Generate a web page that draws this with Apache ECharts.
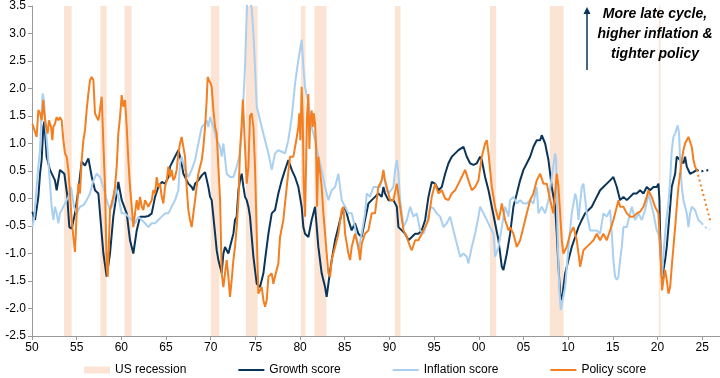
<!DOCTYPE html>
<html>
<head>
<meta charset="utf-8">
<script src="https://cdn.jsdelivr.net/npm/echarts@6/dist/echarts.min.js"></script>
<style>html,body{margin:0;padding:0;background:#fff}#c{width:720px;height:378px}</style>
</head>
<body>
<div id="c"></div>
<script>
// ---- data ----
const recessions = [[1953.58,1954.44],[1957.65,1958.36],[1960.35,1961.15],[1970.0,1970.95],[1973.93,1975.25],[1980.1,1980.6],[1981.6,1982.95],[1990.6,1991.25],[2001.25,2001.95],[2007.95,2009.5],[2020.15,2020.33]];
const xTicks = [1950,1955,1960,1965,1970,1975,1980,1985,1990,1995,2000,2005,2010,2015,2020,2025];
const legendNames = ['US recession','Growth score','Inflation score','Policy score'];

const growth = [
[1950.04,-0.24],[1950.34,-0.39],[1950.71,0.03],[1950.90,0.45],[1951.08,0.70],[1951.27,1.30],[1951.38,1.40],[1951.64,0.76],[1952.01,0.52],[1952.57,0.33],[1952.76,0.15],[1953.13,0.52],[1953.62,0.45],[1953.92,0.09],[1954.18,-0.52],[1954.44,-0.55],[1954.81,-0.27],[1955.19,0.15],[1955.56,0.67],[1955.93,0.60],[1956.31,0.73],[1956.68,0.40],[1957.05,0.15],[1957.43,0.09],[1957.80,-0.64],[1957.99,-1.00],[1958.36,-1.42],[1958.73,-1.00],[1959.10,-0.33],[1959.48,0.09],[1959.66,0.30],[1960.04,-0.03],[1960.60,-0.27],[1960.97,-0.76],[1961.34,-1.00],[1961.72,-0.58],[1962.09,-0.33],[1962.65,-0.33],[1963.02,-0.32],
[1963.40,-0.27],[1963.77,0.03],[1964.14,0.21],[1964.52,0.30],[1964.89,0.27],[1965.26,0.39],[1965.45,0.58],[1965.82,0.70],[1966.19,0.82],[1966.38,0.88],[1966.75,0.64],[1966.94,0.45],[1967.13,0.39],[1967.50,0.27],[1967.87,0.21],[1968.06,0.15],[1968.25,0.27],[1968.62,0.33],[1969.00,0.42],[1969.37,0.48],[1969.55,0.45],[1969.74,0.21],[1969.93,0.03],[1970.11,-0.03],[1970.30,-0.33],[1970.49,-0.64],[1970.67,-0.94],[1970.86,-1.12],[1971.05,-1.24],[1971.23,-1.36],[1971.42,-1.00],[1971.60,-0.88],[1971.79,-0.94],[1971.98,-1.00],[1972.16,-0.88],[1972.35,-0.76],[1972.54,-0.64],[1972.72,-0.39],[1972.91,-0.33],[1973.10,0.15],[1973.28,0.33],[1973.47,0.45],[1973.66,0.21],[1973.84,0.03],[1974.03,-0.03],[1974.22,-0.15],[1974.40,-0.33],[1974.59,-0.70],[1974.78,-1.06],[1974.96,-1.30],[1975.15,-1.55],[1975.52,-1.61],[1975.90,-1.36],[1976.08,-1.12],[1976.27,-0.88],[1976.46,-0.64],
[1976.83,-0.27],[1977.20,-0.21],[1977.57,0.09],[1977.95,0.33],[1978.32,0.52],[1978.69,0.70],[1979.07,0.52],[1979.44,0.39],[1979.81,0.21],[1980.18,-0.15],[1980.37,-0.52],[1980.56,-0.64],[1980.93,-0.70],[1981.30,-0.39],[1981.68,-0.15],[1982.05,-0.88],[1982.42,-1.36],[1982.80,-1.61],[1982.98,-1.79],[1983.17,-1.55],[1983.54,-1.12],[1983.92,-0.76],[1984.29,-0.52],[1984.66,-0.27],[1985.04,-0.15],[1985.41,-0.39],[1985.78,-0.58],[1986.15,-0.45],[1986.53,-0.64],[1986.90,-0.70],[1987.27,-0.39],[1987.65,-0.09],[1988.02,-0.03],[1988.39,0.03],[1988.77,0.09],[1989.14,0.03],[1989.33,0.21],[1989.51,0.09],[1989.89,-0.03],
[1990.08,-0.03],[1990.45,-0.03],[1990.83,-0.15],[1991.01,-0.52],[1991.39,-0.58],[1991.76,-0.64],[1992.13,-0.76],[1992.51,-0.70],[1992.88,-0.64],[1993.25,-0.64],[1993.62,-0.58],[1994.00,-0.39],[1994.37,0.03],[1994.74,0.30],[1995.12,0.27],[1995.49,0.15],[1995.86,0.21],[1996.24,0.45],[1996.61,0.64],[1996.98,0.76],[1997.36,0.82],[1997.73,0.88],[1998.29,0.94],[1998.66,0.76],[1999.03,0.64],[1999.41,0.61],[1999.78,0.64],[2000.15,0.76],[2000.34,0.70],[2000.71,0.39],[2001.09,0.15],[2001.46,-0.15],[2001.83,-0.45],[2002.21,-0.76],[2002.58,-1.24],[2002.76,-1.30],[2003.14,-1.00],
[2003.51,-0.64],[2003.88,-0.15],[2004.26,0.09],[2004.63,0.33],[2005.00,0.52],[2005.38,0.64],[2005.75,0.76],[2006.12,0.94],[2006.49,1.06],[2006.87,1.06],[2007.05,1.15],[2007.43,1.00],[2007.80,0.70],[2008.17,0.21],[2008.55,-0.15],[2008.73,-0.64],[2008.92,-1.24],[2009.11,-1.73],[2009.29,-1.85],[2009.67,-1.36],[2010.04,-1.12],[2010.41,-0.88],[2010.79,-0.70],[2011.16,-0.52],[2011.53,-0.39],[2011.90,-0.27],[2012.28,-0.21],[2012.65,-0.15],[2013.02,-0.03],[2013.40,0.09],
[2013.58,0.15],[2013.95,0.21],[2014.33,0.27],[2014.70,0.33],[2015.07,0.39],[2015.26,0.36],[2015.45,0.21],[2015.63,0.09],[2015.82,-0.03],[2016.19,0.03],[2016.57,-0.03],[2016.94,0.03],[2017.31,0.09],[2017.68,0.09],[2018.06,0.15],[2018.43,0.09],[2018.80,0.21],[2019.18,0.15],[2019.55,0.21],[2019.92,0.21],[2020.11,0.27],[2020.22,-0.03],[2020.30,-0.64],[2020.41,-1.24],[2020.52,-1.48],[2020.67,-1.30],[2020.86,-1.12],[2021.04,-0.88],[2021.23,-0.52],[2021.42,-0.15],[2021.60,0.21],[2021.79,0.33],[2021.98,0.45],[2022.16,0.76],[2022.54,0.70],[2022.91,0.64],[2023.09,0.76],[2023.28,0.58],[2023.65,0.45],[2024.03,0.48],[2024.40,0.52]
];
const growthProj = [[2024.40,0.52],[2024.77,0.49],[2025.14,0.50],[2025.52,0.51],[2025.90,0.53]];

const inflation = [
[1950.04,-0.52],[1950.26,-0.33],[1950.52,0.21],[1950.71,0.58],[1950.90,0.88],[1951.08,1.61],[1951.19,1.91],[1951.34,1.79],[1951.53,1.30],[1951.75,0.88],[1952.01,0.27],[1952.20,-0.15],[1952.39,-0.39],[1952.57,-0.15],[1952.76,-0.27],[1952.95,-0.45],[1953.13,-0.27],[1953.32,-0.27],[1953.69,-0.09],[1954.07,0.03],[1954.37,0.21],[1954.70,-0.15],[1955.00,-0.27],[1955.37,-0.15],[1955.75,-0.12],[1956.12,-0.03],[1956.49,0.09],[1956.87,0.33],[1957.24,0.45],[1957.61,0.39],[1957.99,0.21],[1958.36,-0.03],[1958.73,-0.21],[1959.10,-0.09],[1959.37,0.21],[1959.66,0.03],[1960.04,-0.27],[1960.41,-0.27],[1960.78,-0.33],[1961.16,-0.39],[1961.53,-0.45],[1961.90,-0.33],[1962.28,-0.39],[1962.65,-0.45],[1963.02,-0.52],
[1963.40,-0.45],[1963.77,-0.45],[1964.14,-0.39],[1964.52,-0.33],[1964.89,-0.27],[1965.26,-0.27],[1965.63,-0.15],[1966.01,-0.03],[1966.38,0.15],[1966.57,0.64],[1966.75,0.76],[1967.13,0.52],[1967.50,0.39],[1967.87,0.52],[1968.25,0.70],[1968.62,1.00],[1969.00,1.30],[1969.37,1.36],[1969.55,1.42],[1969.74,1.30],[1969.93,1.48],[1970.30,1.30],[1970.67,1.06],[1971.05,0.94],[1971.23,0.76],[1971.42,1.00],[1971.79,0.45],[1972.16,0.39],[1972.54,0.39],[1972.91,0.58],[1973.28,0.82],[1973.47,1.18],[1973.66,1.79],[1973.84,2.39],[1973.96,3.00],[1974.07,3.55],[1974.22,3.65],[1974.40,3.60],[1974.59,3.45],[1974.78,3.00],[1974.96,2.39],[1975.15,1.67],[1975.33,1.55],[1975.71,1.30],[1976.08,1.06],[1976.46,0.82],
[1976.83,0.52],[1977.20,0.82],[1977.57,0.88],[1977.95,0.85],[1978.32,0.82],[1978.69,1.06],[1979.07,1.48],[1979.44,2.09],[1979.81,2.52],[1980.00,2.70],[1980.18,2.89],[1980.37,2.39],[1980.56,2.03],[1980.93,1.73],[1981.30,1.30],[1981.68,1.06],[1982.05,0.76],[1982.42,0.52],[1982.80,0.21],[1983.17,-0.03],[1983.54,0.15],[1983.92,0.21],[1984.29,0.45],[1984.66,-0.03],[1985.04,-0.15],[1985.41,-0.27],[1985.78,-0.27],[1986.15,-0.52],[1986.53,-0.94],[1986.90,-0.64],[1987.27,-0.27],[1987.46,0.09],[1987.83,0.03],[1988.21,0.21],[1988.58,0.21],[1988.95,0.21],[1989.33,0.45],[1989.70,0.15],[1989.89,0.09],
[1990.08,0.09],[1990.45,0.21],[1990.64,0.52],[1990.83,0.70],[1991.01,0.45],[1991.20,-0.03],[1991.57,-0.52],[1991.95,-0.39],[1992.32,-0.15],[1992.69,-0.33],[1993.06,-0.27],[1993.44,-0.58],[1993.81,-0.64],[1994.18,-0.45],[1994.56,-0.15],[1994.93,-0.18],[1995.30,-0.27],[1995.68,-0.33],[1996.05,-0.52],[1996.42,-0.45],[1996.80,-0.33],[1997.17,-0.58],[1997.54,-0.82],[1997.92,-1.06],[1998.29,-1.00],[1998.66,-1.06],[1998.85,-1.18],[1999.22,-0.88],[1999.59,-0.64],[1999.97,-0.33],[2000.15,-0.15],[2000.53,-0.27],[2000.90,-0.39],[2001.27,-0.52],[2001.65,-0.64],[2001.83,-1.06],[2002.21,-0.88],[2002.58,-0.52],[2002.95,-0.15],[2003.33,-0.33],
[2003.51,-0.03],[2003.88,0.03],[2004.26,-0.09],[2004.63,-0.03],[2005.00,-0.09],[2005.38,-0.09],[2005.75,-0.03],[2006.12,-0.09],[2006.49,0.21],[2006.68,-0.27],[2007.05,-0.15],[2007.43,-0.27],[2007.80,-0.03],[2008.17,0.39],[2008.55,0.82],[2008.66,0.70],[2008.81,-0.64],[2009.00,-1.61],[2009.18,-2.03],[2009.37,-2.00],[2009.67,-1.61],[2010.04,-0.88],[2010.41,-0.27],[2010.79,0.09],[2010.97,-0.03],[2011.16,-0.39],[2011.53,0.21],[2011.72,0.27],[2012.09,-0.27],[2012.46,-0.58],[2012.84,-0.58],[2013.21,-0.58],
[2013.58,-0.64],[2013.95,-0.27],[2014.33,-0.33],[2014.70,-0.21],[2014.89,-0.64],[2015.07,-1.12],[2015.26,-1.42],[2015.45,-1.48],[2015.63,-1.42],[2015.82,-1.12],[2016.01,-0.88],[2016.19,-0.52],[2016.57,-0.52],[2016.94,-0.27],[2017.13,-0.15],[2017.50,-0.39],[2017.87,-0.27],[2018.25,-0.39],[2018.62,-0.21],[2018.99,0.09],[2019.18,-0.03],[2019.55,-0.27],[2019.92,-0.58],[2020.11,-0.64],[2020.22,-0.76],[2020.37,-1.00],[2020.52,-1.42],[2020.67,-1.00],[2020.86,-0.64],[2021.04,-0.33],[2021.23,-0.09],[2021.42,0.33],[2021.60,0.88],[2021.79,1.12],[2021.98,1.18],[2022.27,1.33],[2022.42,1.18],[2022.54,0.70],[2022.72,0.21],[2022.91,-0.03],[2023.09,-0.15],[2023.28,-0.27],[2023.47,-0.52],[2023.65,-0.27],[2023.84,-0.15],[2024.21,-0.21],[2024.58,-0.39],[2024.96,-0.45]
];
const inflationProj = [[2024.96,-0.45],[2025.33,-0.52],[2025.90,-0.56]];

const policy = [
[1950.04,1.36],[1950.26,1.33],[1950.52,1.12],[1950.71,1.61],[1950.90,1.55],[1951.08,1.42],[1951.27,1.79],[1951.38,1.55],[1951.53,1.36],[1951.75,1.18],[1951.90,1.42],[1952.13,1.30],[1952.28,1.06],[1952.39,1.30],[1952.57,1.36],[1952.76,1.48],[1952.95,1.42],[1953.13,1.48],[1953.32,1.42],[1953.51,1.06],[1953.69,0.82],[1953.88,0.76],[1954.07,0.52],[1954.25,0.09],[1954.44,-0.39],[1954.63,-0.70],[1954.81,-0.97],[1955.00,-0.27],[1955.19,0.27],[1955.37,0.09],[1955.56,0.70],[1955.75,1.06],[1955.93,1.24],[1956.12,1.61],[1956.31,1.91],[1956.49,2.15],[1956.68,2.21],[1956.87,2.15],[1957.05,1.55],[1957.24,1.48],[1957.43,1.42],[1957.61,1.61],[1957.80,1.85],[1957.99,1.00],[1958.17,0.21],[1958.36,-1.24],[1958.47,-1.42],[1958.62,-0.76],[1958.73,-0.21],[1958.92,-0.21],[1959.10,0.03],[1959.29,0.21],[1959.48,0.58],[1959.66,1.18],[1959.85,1.48],[1960.04,1.88],[1960.22,1.67],[1960.41,1.79],[1960.60,1.30],[1960.78,0.70],[1960.97,0.21],[1961.16,-0.15],[1961.34,-0.52],[1961.53,-0.27],[1961.72,-0.03],[1961.90,-0.21],[1962.09,0.03],[1962.28,-0.15],[1962.46,-0.21],[1962.65,-0.03],[1963.02,-0.15],
[1963.40,-0.03],[1963.58,0.15],[1963.77,0.09],[1963.96,0.39],[1964.14,0.21],[1964.33,0.27],[1964.52,0.03],[1964.70,-0.09],[1964.89,0.21],[1965.08,0.33],[1965.26,0.58],[1965.45,0.39],[1965.63,0.52],[1965.82,0.33],[1966.01,0.39],[1966.19,0.52],[1966.38,0.82],[1966.57,1.00],[1966.75,1.12],[1966.94,0.94],[1967.13,0.76],[1967.31,0.21],[1967.50,-0.21],[1967.69,-0.39],[1967.87,-0.52],[1968.06,-0.27],[1968.25,-0.03],[1968.43,0.21],[1968.62,0.45],[1968.81,0.58],[1969.00,0.70],[1969.18,0.94],[1969.37,1.30],[1969.55,1.79],[1969.66,2.21],[1969.81,2.15],[1970.00,2.09],[1970.11,2.03],[1970.30,1.61],[1970.49,1.30],[1970.67,1.18],[1970.86,0.58],[1971.05,-0.03],[1971.23,-1.36],[1971.42,-1.61],[1971.60,-1.36],[1971.79,-1.12],[1971.98,-1.42],[1972.16,-1.79],[1972.35,-1.48],[1972.54,-1.12],[1972.72,-0.88],[1972.91,-0.52],[1973.10,-0.03],[1973.28,0.88],[1973.47,1.36],[1973.60,1.80],[1973.84,0.94],[1974.03,0.27],[1974.22,0.58],[1974.40,1.50],[1974.59,1.55],[1974.78,1.30],[1974.96,0.58],[1975.15,-0.64],[1975.33,-1.73],[1975.52,-1.67],[1975.71,-1.61],[1975.90,-1.85],[1976.08,-1.97],[1976.27,-1.85],[1976.46,-1.42],
[1976.83,-1.36],[1977.01,-1.55],[1977.20,-1.42],[1977.57,-1.18],[1977.76,-0.70],[1978.13,-0.39],[1978.51,0.21],[1978.88,0.76],[1979.25,0.76],[1979.62,1.10],[1979.81,1.30],[1979.92,1.55],[1980.04,1.06],[1980.18,2.03],[1980.30,1.48],[1980.41,0.27],[1980.56,-0.33],[1980.67,0.58],[1980.78,1.50],[1980.93,1.90],[1981.04,0.90],[1981.15,1.42],[1981.30,1.60],[1981.42,1.30],[1981.53,1.55],[1981.68,1.36],[1981.79,0.94],[1981.90,-0.15],[1982.05,0.76],[1982.16,0.58],[1982.27,0.45],[1982.42,0.21],[1982.61,-0.27],[1982.80,-0.64],[1982.98,-1.00],[1983.17,-1.36],[1983.36,-1.42],[1983.54,-1.12],[1983.92,-0.88],[1984.29,-0.64],[1984.66,-0.21],[1984.85,-0.15],[1985.04,-0.64],[1985.41,-1.00],[1985.60,-1.12],[1985.78,-0.88],[1986.15,-0.64],[1986.53,-0.88],[1986.72,-1.12],[1986.90,-0.82],[1987.27,-0.64],[1987.65,-0.58],[1988.02,-0.27],[1988.39,-0.27],[1988.77,0.21],[1989.14,0.33],[1989.33,0.52],[1989.51,0.33],[1989.89,0.09],
[1990.08,-0.03],[1990.45,-0.03],[1990.83,0.27],[1991.20,-0.15],[1991.57,-0.58],[1991.95,-0.70],[1992.32,-0.88],[1992.51,-0.94],[1992.88,-0.76],[1993.25,-0.76],[1993.62,-0.64],[1994.00,-0.52],[1994.37,-0.39],[1994.74,0.03],[1995.12,0.27],[1995.49,0.09],[1995.86,0.15],[1996.24,0.00],[1996.61,-0.03],[1996.98,0.09],[1997.36,0.15],[1997.73,0.27],[1998.10,0.39],[1998.47,0.52],[1998.85,0.33],[1999.22,0.15],[1999.59,0.21],[1999.97,0.33],[2000.34,0.76],[2000.71,1.00],[2000.90,1.06],[2001.09,0.82],[2001.46,0.21],[2001.83,-0.15],[2002.21,-0.39],[2002.39,-0.27],[2002.58,-0.09],[2002.95,-0.39],[2003.33,-0.58],
[2003.51,-0.52],[2003.88,-0.64],[2004.26,-0.88],[2004.63,-0.76],[2005.00,-0.52],[2005.38,-0.27],[2005.75,-0.03],[2006.12,0.09],[2006.49,0.33],[2006.87,0.45],[2007.24,0.27],[2007.61,0.27],[2007.99,-0.03],[2008.36,-0.27],[2008.73,0.45],[2008.92,0.21],[2009.11,-0.27],[2009.29,-0.76],[2009.48,-1.00],[2009.85,-0.88],[2010.23,-0.64],[2010.60,-0.52],[2010.97,-0.76],[2011.35,-1.24],[2011.72,-0.94],[2012.09,-0.88],[2012.46,-0.82],[2012.84,-0.76],[2013.21,-0.64],
[2013.58,-0.76],[2013.95,-0.64],[2014.33,-0.76],[2014.70,-0.58],[2015.07,-0.39],[2015.45,-0.15],[2015.63,-0.03],[2015.82,-0.15],[2016.19,-0.15],[2016.57,-0.27],[2016.94,-0.33],[2017.31,-0.33],[2017.68,-0.27],[2018.06,-0.24],[2018.43,-0.15],[2018.80,0.03],[2018.99,0.15],[2019.36,0.03],[2019.73,-0.15],[2020.11,-0.27],[2020.22,-0.64],[2020.37,-1.12],[2020.52,-1.67],[2020.67,-1.48],[2020.86,-1.30],[2021.04,-1.48],[2021.23,-1.73],[2021.42,-1.61],[2021.60,-1.24],[2021.79,-0.88],[2021.98,-0.52],[2022.16,-0.15],[2022.35,0.21],[2022.54,0.45],[2022.72,0.70],[2022.91,0.88],[2023.09,1.00],[2023.28,1.06],[2023.47,1.12],[2023.65,1.12],[2023.84,0.94],[2024.03,0.70],[2024.21,0.58],[2024.40,0.52]
];
const policyProj = [[2024.40,0.52],[2025.90,-0.40]];

// ---- styling ----
const C_REC = '#FCE4D5', C_GROWTH = '#0B3558', C_INFL = '#A9D0F0', C_POL = '#F47F21';
const FONT = 'Liberation Sans, Arial, sans-serif';

const chart = echarts.init(document.getElementById('c'), null, {renderer: 'canvas'});
const xFmt = v => xTicks.indexOf(v) >= 0 ? String(v % 100).padStart(2, '0') : '';

const lineSeries = (name, data, color, dotted) => ({
  name, type: 'line', data, xAxisIndex: 0, yAxisIndex: 0,
  symbol: 'none', silent: true, animation: false,
  itemStyle: {color},
  lineStyle: {color, width: 2, type: dotted ? [2, 3] : 'solid'},
  z: 3
});
const hiddenSym = {opacity: 0};

chart.setOption({
  animation: false,
  backgroundColor: '#fff',
  grid: {left: 32, right: 0, top: 6, height: 330},
  xAxis: [{
    type: 'value', min: 1950, max: 2027, interval: 5, position: 'bottom',
    axisLine: {show: false}, axisTick: {show: false}, splitLine: {show: false},
    axisLabel: {formatter: xFmt, color: '#000', fontSize: 12, fontFamily: FONT, margin: 6, showMaxLabel: false}
  }, {
    type: 'value', min: 1950, max: 2027, interval: 5, position: 'bottom',
    axisLine: {show: true, onZero: true, lineStyle: {color: '#999', width: 1}},
    axisTick: {show: true, length: 4, lineStyle: {color: '#999'}},
    axisLabel: {show: false}, splitLine: {show: false}
  }],
  yAxis: {
    type: 'value', min: -2.5, max: 3.5, interval: 0.5,
    axisLine: {show: true, lineStyle: {color: '#999'}},
    axisTick: {show: true, length: 4, lineStyle: {color: '#999'}},
    splitLine: {show: false},
    axisLabel: {formatter: v => v.toFixed(1), color: '#000', fontSize: 12, fontFamily: FONT, margin: 6}
  },
  legend: {
    data: [
      {name: legendNames[0], icon: 'rect', itemStyle: {color: C_REC}},
      {name: legendNames[1], itemStyle: hiddenSym},
      {name: legendNames[2], itemStyle: hiddenSym},
      {name: legendNames[3], itemStyle: hiddenSym}
    ],
    left: 84, top: 364, padding: 0, itemWidth: 26, itemHeight: 7, itemGap: 51,
    textStyle: {fontSize: 12, color: '#000', fontFamily: FONT},
    selectedMode: false
  },
  series: [
    {
      name: legendNames[0], type: 'line', data: [], symbol: 'none',
      itemStyle: {color: C_REC}, lineStyle: {color: C_REC},
      markArea: {silent: true, itemStyle: {color: C_REC},
        data: recessions.map(r => [{xAxis: r[0]}, {xAxis: r[1]}])},
      z: 1
    },
    lineSeries(legendNames[1], growth, C_GROWTH, false),
    lineSeries(legendNames[2], inflation, C_INFL, false),
    lineSeries(legendNames[3], policy, C_POL, false),
    lineSeries('growthProj', growthProj, C_GROWTH, true),
    lineSeries('inflationProj', inflationProj, C_INFL, true),
    lineSeries('policyProj', policyProj, C_POL, true)
  ],
  graphic: [
    {type: 'line', shape: {x1: 587, y1: 70, x2: 587, y2: 12}, style: {stroke: C_GROWTH, lineWidth: 1.5}, z: 10},
    {type: 'polygon', shape: {points: [[583.5, 14], [590.5, 14], [587, 7]]}, style: {fill: C_GROWTH}, z: 10},
    {type: 'text', x: 655, y: 4, z: 10,
      style: {text: 'More late cycle,\nhigher inflation &\ntighter policy', textAlign: 'center',
        font: 'italic bold 14px ' + FONT, lineHeight: 20, fill: '#000'}}
  ]
});
</script>
</body>
</html>
